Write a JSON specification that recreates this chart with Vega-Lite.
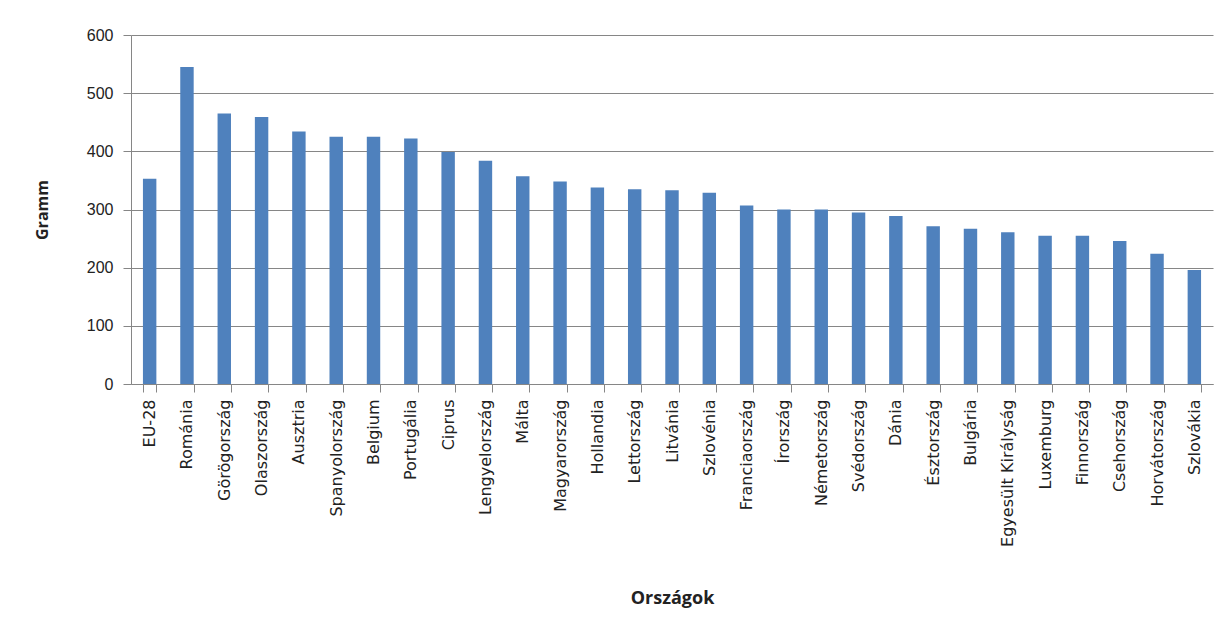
{
  "$schema": "https://vega.github.io/schema/vega-lite/v6.json",
  "autosize": "none",
  "width": 1082,
  "height": 349,
  "padding": {"left": 131, "top": 35, "right": 16, "bottom": 251},
  "background": "white",
  "data": {
    "values": [
      {"orszag": "EU-28", "gramm": 353},
      {"orszag": "Románia", "gramm": 545},
      {"orszag": "Görögország", "gramm": 465},
      {"orszag": "Olaszország", "gramm": 459},
      {"orszag": "Ausztria", "gramm": 434},
      {"orszag": "Spanyolország", "gramm": 425},
      {"orszag": "Belgium", "gramm": 425},
      {"orszag": "Portugália", "gramm": 422},
      {"orszag": "Ciprus", "gramm": 399},
      {"orszag": "Lengyelország", "gramm": 384},
      {"orszag": "Málta", "gramm": 357},
      {"orszag": "Magyarország", "gramm": 348},
      {"orszag": "Hollandia", "gramm": 338},
      {"orszag": "Lettország", "gramm": 335},
      {"orszag": "Litvánia", "gramm": 333},
      {"orszag": "Szlovénia", "gramm": 329},
      {"orszag": "Franciaország", "gramm": 307},
      {"orszag": "Írország", "gramm": 300},
      {"orszag": "Németország", "gramm": 300},
      {"orszag": "Svédország", "gramm": 295},
      {"orszag": "Dánia", "gramm": 289},
      {"orszag": "Észtország", "gramm": 271},
      {"orszag": "Bulgária", "gramm": 267},
      {"orszag": "Egyesült Királyság", "gramm": 261},
      {"orszag": "Luxemburg", "gramm": 255},
      {"orszag": "Finnország", "gramm": 255},
      {"orszag": "Csehország", "gramm": 246},
      {"orszag": "Horvátország", "gramm": 224},
      {"orszag": "Szlovákia", "gramm": 196}
    ]
  },
  "mark": {"type": "bar", "color": "#4F81BD"},
  "encoding": {
    "x": {
      "field": "orszag",
      "type": "nominal",
      "sort": null,
      "scale": {"paddingInner": 0.64, "paddingOuter": 0.32},
      "axis": {
        "title": "Országok",
        "labelAngle": -90,
        "labelAlign": "right",
        "labelBaseline": "middle",
        "labelFont": "DejaVu Sans",
        "labelFontSize": 16,
        "labelColor": "#222222",
        "labelPadding": 7,
        "tickSize": 8,
        "tickColor": "#868686",
        "tickBand": "extent",
        "domainColor": "#868686",
        "titleFont": "Open Sans",
        "titleFontSize": 18,
        "titleFontWeight": "bold",
        "titleColor": "#222222",
        "titleY": 214,
        "titleBaseline": "middle",
        "grid": false,
        "labelLimit": 300
      }
    },
    "y": {
      "field": "gramm",
      "type": "quantitative",
      "scale": {"domain": [0, 600], "nice": false},
      "axis": {
        "title": "Gramm",
        "values": [0, 100, 200, 300, 400, 500, 600],
        "labelFont": "Liberation Sans",
        "labelFontSize": 16,
        "labelColor": "#222222",
        "labelPadding": 10,
        "tickSize": 8,
        "tickColor": "#868686",
        "domainColor": "#868686",
        "gridColor": "#868686",
        "gridWidth": 1,
        "titleFont": "Open Sans",
        "titleFontSize": 16,
        "titleFontWeight": "bold",
        "titleColor": "#222222",
        "titleX": -89,
        "titleBaseline": "middle"
      }
    }
  },
  "config": {
    "view": {"stroke": null}
  }
}
